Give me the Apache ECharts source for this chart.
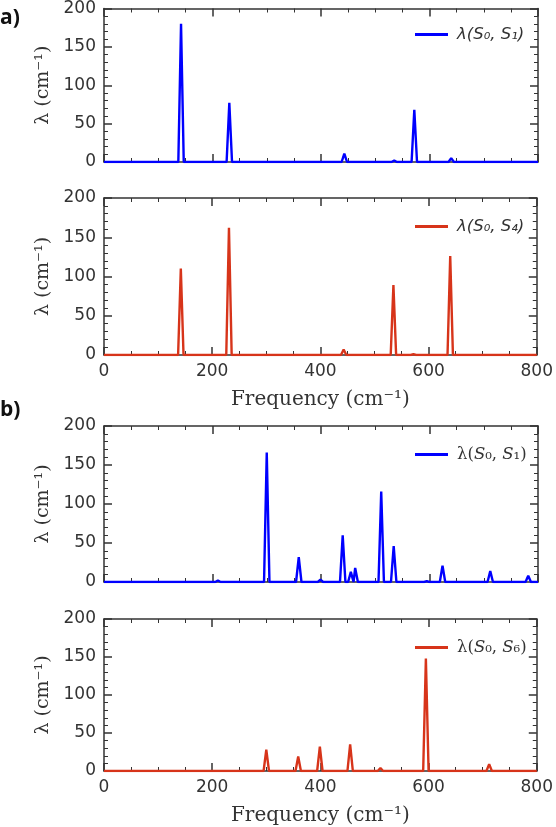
<!DOCTYPE html>
<html><head><meta charset="utf-8">
<script src="https://cdn.jsdelivr.net/npm/echarts@6/dist/echarts.min.js"></script>
<style>html,body{margin:0;padding:0;background:#fff}#c{width:556px;height:827px}</style>
</head><body><div id="c"></div>
<script>
// ---- data ----
const aFreq = [142, 231, 443, 535, 572, 640];
const aS1   = [180, 77, 11, 2, 68, 5];
const aS4   = [110, 162, 7, 89, 1, 126];
const bFreq = [210, 300, 359, 399, 440, 455, 463, 511, 534, 595, 624, 712, 782];
const bS1   = [2, 166, 32, 3, 60, 13, 18, 116, 46, 1, 21, 14, 8];
const bS6   = [0, 28, 19, 32, 0, 35, 0, 4, 0, 148, 0, 9, 0];
const xTickValues = [0, 200, 400, 600, 800];
const yTickValues = [0, 50, 100, 150, 200];

// ---- styling ----
const BLUE = '#0000ff', RED = '#d7341a', INK = '#333';
const HW = 5; // half-width of each peak in cm^-1 (drawing style)
function spectrum(freq, vals) {
  const d = [[xTickValues[0], 0]];
  freq.forEach((f, i) => { d.push([f - HW, 0], [f, vals[i]], [f + HW, 0]); });
  d.push([xTickValues[xTickValues.length - 1], 0]);
  return d;
}
const panels = [
  {top: 6,   h: 156, freq: aFreq, vals: aS1, color: BLUE, id: 'a1', lab: false, sub: ['₀','₁'], style: 'a'},
  {top: 198, h: 157, freq: aFreq, vals: aS4, color: RED,  id: 'a4', lab: true,  sub: ['₀','₄'], style: 'a'},
  {top: 426, h: 156, freq: bFreq, vals: bS1, color: BLUE, id: 'b1', lab: false, sub: ['₀','₁'], style: 'b'},
  {top: 619, h: 155, freq: bFreq, vals: bS6, color: RED,  id: 'b6', lab: true,  sub: ['₀','₆'], style: 'b'}
];
const labelStyle = {fontFamily: 'DejaVu Sans', fontSize: 17, color: INK};
const lineS = {color: INK, width: 1.5};
const grid = [], xAxis = [], yAxis = [], series = [], legend = [];
panels.forEach((p, i) => {
  grid.push({left: 104, right: 18, top: p.top, height: p.h, show: false});
  const common = {gridIndex: i, type: 'value', splitLine: {show: false}, minorSplitLine: {show: false},
    axisLine: {show: true, onZero: false, lineStyle: lineS},
    axisTick: {show: true, inside: true, length: 8, lineStyle: lineS},
    minorTick: {show: true, length: 4, lineStyle: {color: INK, width: 1}}};
  const xc = Object.assign({}, common, {min: xTickValues[0], max: xTickValues[xTickValues.length-1], interval: 200,
    minorTick: Object.assign({}, common.minorTick, {splitNumber: 4})});
  const yc = Object.assign({}, common, {min: yTickValues[0], max: yTickValues[yTickValues.length-1], interval: 50,
    minorTick: Object.assign({}, common.minorTick, {splitNumber: 5})});
  xAxis.push(Object.assign({}, xc, {position: 'bottom',
    axisLabel: Object.assign({show: p.lab, margin: 8}, labelStyle),
    name: p.lab ? 'Frequency (cm⁻¹)' : '', nameLocation: 'middle', nameGap: 35,
    nameTextStyle: {fontFamily: 'DejaVu Serif', fontSize: 20, color: INK}}));
  xAxis.push(Object.assign({}, xc, {position: 'top', axisLabel: {show: false}}));
  yAxis.push(Object.assign({}, yc, {position: 'left',
    axisLabel: Object.assign({show: true, margin: 8}, labelStyle),
    name: 'λ (cm⁻¹)', nameLocation: 'middle', nameGap: 47,
    nameTextStyle: {fontFamily: 'DejaVu Serif', fontSize: 19, color: INK}}));
  yAxis.push(Object.assign({}, yc, {position: 'right', axisLabel: {show: false}}));
  series.push({type: 'line', name: p.id, xAxisIndex: 2*i, yAxisIndex: 2*i, data: spectrum(p.freq, p.vals),
    symbol: 'none', lineStyle: {color: p.color, width: 2.4}, itemStyle: {color: p.color}, silent: true, animation: false});
  const rich = p.style === 'a'
    ? {n: {fontFamily: 'DejaVu Sans', fontStyle: 'italic', fontSize: 16.5, color: INK}}
    : {n: {fontFamily: 'DejaVu Serif', fontSize: 16.5, color: INK},
       i: {fontFamily: 'DejaVu Serif', fontStyle: 'italic', fontSize: 16.5, color: INK}};
  const txt = p.style === 'a'
    ? `{n|λ(S${p.sub[0]}, S${p.sub[1]})}`
    : `{n|λ(}{i|S}{n|${p.sub[0]}, }{i|S}{n|${p.sub[1]})}`;
  legend.push({data: [{name: p.id, icon: 'rect'}], left: 410, top: p.top + 22 - 8, itemWidth: 33, itemHeight: 3,
    itemStyle: {color: p.color}, formatter: () => txt, padding: [6, 5, 6, 5],
    textStyle: {rich: rich, padding: [0, 0, 0, 4]}, selectedMode: false});
});
const chart = echarts.init(document.getElementById('c'), null, {renderer: 'canvas'});
chart.setOption({
  animation: false, backgroundColor: '#fff', grid, xAxis, yAxis, series, legend,
  graphic: [
    {type: 'text', left: 0, top: 8, style: {text: 'a)', font: 'bold 21px "Open Sans"', fill: '#111'}},
    {type: 'text', left: 0, top: 400, style: {text: 'b)', font: 'bold 21px "Open Sans"', fill: '#111'}}
  ]
});
</script></body></html>
